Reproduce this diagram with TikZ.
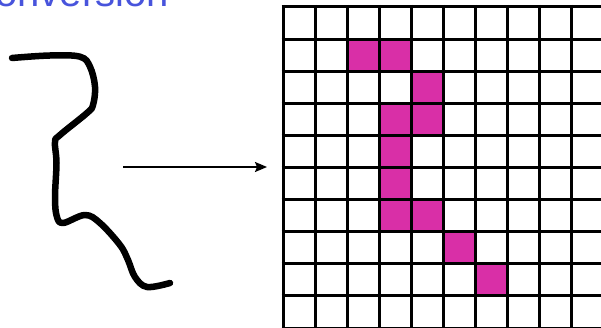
\documentclass[tikz,border=0pt]{standalone}
\usepackage{fontspec}
\setmainfont{Liberation Sans}
\usetikzlibrary{arrows.meta}
\definecolor{titleblue}{RGB}{72,84,220}
\definecolor{pix}{RGB}{217,47,167}
\tikzset{
  stroke/.style={line width=6.5pt, line cap=round, line join=round},
  gridline/.style={line width=3pt},
  pixel/.style={fill=pix, draw=none},
  arrowline/.style={line width=1.8pt, -{Stealth[length=12pt,width=10pt,inset=2pt]}}
}
\begin{document}
\begin{tikzpicture}[x=1pt,y=-1pt]
\useasboundingbox (0,0) rectangle (601,328);
\fill[white] (0,0) rectangle (601,328);
\begin{scope}
\clip (0,0) rectangle (601,328);
% title
\node[anchor=base east, font=\fontsize{40}{40}\selectfont, text=titleblue, inner sep=0pt] (title) at (169,7) {Conversion};
% grid pixels
\def\gx{283}\def\gy{7}\def\gs{32.1}
\foreach \c/\r in {2/1,3/1,4/2,3/3,4/3,3/4,3/5,3/6,4/6,5/7,6/8}{
  \fill[pixel] ({\gx+\c*\gs},{\gy+\r*\gs}) rectangle ({\gx+(\c+1)*\gs},{\gy+(\r+1)*\gs});
}
\foreach \i in {0,...,10}{
  \draw[gridline] ({\gx+\i*\gs},{\gy-2}) -- ({\gx+\i*\gs},{\gy+10*\gs+2});
  \draw[gridline] ({\gx-1.5},{\gy+\i*\gs}) -- ({\gx+10*\gs+2},{\gy+\i*\gs});
}
\coordinate (gridleft) at (267,167);
% curve
\draw[stroke] plot[smooth, tension=0.6] coordinates {
 (12,58) (50,55.5) (80,56.7) (90,66.7) (95,86.7) (93,105) (87,113) (60,135) (55,142)
 (56.5,163) (55,197) (56.7,216) (63,223) (85,215) (100,223) (120,245) (128,260)
 (135,277) (147,287) (170,283)};
\coordinate (curveright) at (123,167);
\draw[arrowline] (curveright) -- (gridleft);
\end{scope}
\end{tikzpicture}
\end{document}
